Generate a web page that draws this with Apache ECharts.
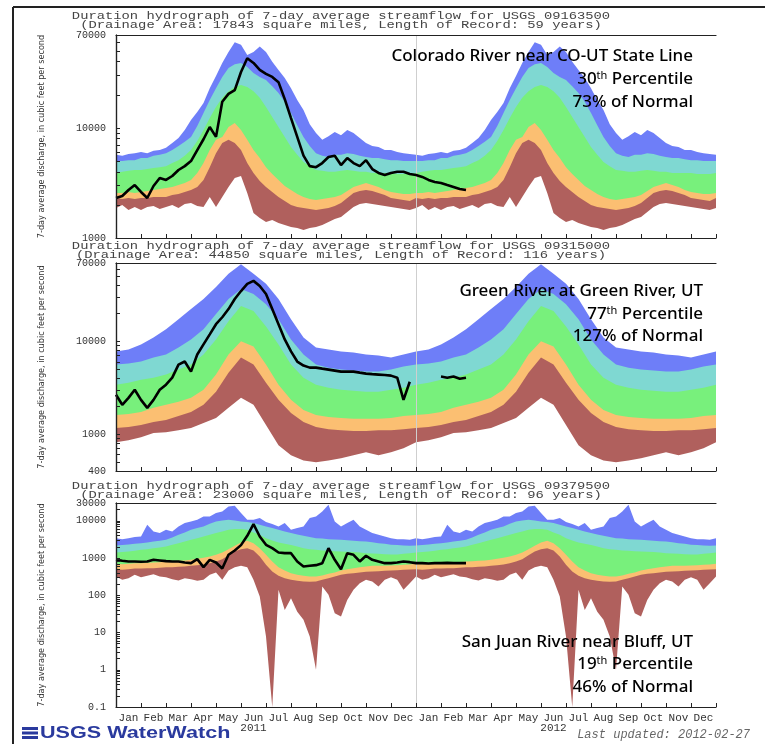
<!DOCTYPE html>
<html><head><meta charset="utf-8">
<script src="https://cdn.jsdelivr.net/npm/echarts@6.0.0/dist/echarts.min.js"></script>
<style>html,body{margin:0;padding:0;background:#fff}#c{width:765px;height:744px}</style>
</head><body><div id="c"></div>
<script>
// ---------- categories / ticks ----------
const monthNames = ['Jan','Feb','Mar','Apr','May','Jun','Jul','Aug','Sep','Oct','Nov','Dec',
                    'Jan','Feb','Mar','Apr','May','Jun','Jul','Aug','Sep','Oct','Nov','Dec'];
const yearLabels = ['2011','2012'];
const p1TickLabels = [1000, 10000, 70000];
const p2TickLabels = [400, 1000, 10000, 70000];
const p3TickLabels = [0.1, 1, 10, 100, 1000, 10000, 30000];
const p1Decades = [1000, 10000];
const p2Decades = [100, 1000, 10000];
const p3Decades = [0.1, 1, 10, 100, 1000, 10000];

// ---------- Panel 1: Colorado River near CO-UT State Line (quarter-month steps) ----------
const p1Max = [5700,5600,5800,5900,6050,5900,6200,6300,6600,7300,8100,9600,11800,14000,16900,23000,29700,39000,49000,60000,57000,46000,49000,55000,49000,40000,33700,28500,23000,18000,14600,10800,9000,7800,8400,9200,8600,9600,9000,8100,7300,6850,6700,6300,6300,6050,5900,5800];
const p1P90 = [5000,5000,5100,5100,5330,5330,5600,5700,5900,6300,6850,7500,8300,10400,13700,18000,23000,29100,35000,38000,39000,35900,31600,29100,27300,24000,20800,17300,13700,10600,8300,6850,5900,5600,5450,5700,5700,5900,5800,5600,5450,5330,5330,5200,5100,5100,5000,5000];
const p1P75 = [3900,4000,4080,4150,4150,4230,4320,4400,4500,4800,5100,5600,6300,7600,9600,12300,15500,18800,21600,23600,24600,23600,21600,18800,15500,12600,10200,8300,6700,5700,4900,4500,4150,4080,4000,4000,4080,4150,4080,4000,4000,3900,3900,3900,3900,3820,3820,3820];
const p1P25 = [2570,2570,2620,2570,2620,2680,2730,2790,2850,2910,3030,3160,3370,3900,4800,6300,7800,8300,10200,11100,9600,7800,6300,5330,4400,3820,3370,2970,2730,2510,2360,2260,2210,2260,2310,2360,2460,2680,2910,3030,3160,3030,2910,2730,2620,2570,2510,2510];
const p1P10 = [2310,2260,2310,2260,2310,2310,2360,2360,2360,2460,2510,2620,2730,2910,3370,4400,5900,7300,7800,7300,6300,4800,3900,3300,2910,2620,2360,2170,2000,1910,1870,1830,1800,1830,1870,1950,2080,2310,2570,2680,2730,2680,2570,2460,2310,2260,2210,2170];
const p1Min = [1870,2000,1800,1910,1800,1910,1950,1830,1910,2000,1870,2040,2080,1950,1910,2360,1910,2360,2910,3510,3660,2570,1690,1520,1400,1460,1370,1310,1260,1230,1180,1230,1260,1310,1400,1490,1550,1720,1910,2040,2080,2040,2000,1950,1910,1870,1830,1800];
const p1Obs = [2310,2410,2730,3030,2620,2310,2970,3510,3370,3660,4150,4500,5000,6300,7900,10200,8300,17300,20400,22100,32300,43000,39000,33700,31000,29100,26100,18300,12300,8300,5600,4500,4400,4800,5450,5600,4600,5330,4800,4500,5100,4230,3900,3740,3900,4000,4000,3820,3740,3590,3370,3230,3160,3030,2910,2790,2730];

// ---------- Panel 2: Green River at Green River, UT (half-month steps) ----------
const p2Max = [7790,8190,9270,11000,13500,17300,22300,28600,38600,53500,68000,53500,41700,28600,17300,11000,8610,8190,7790,7590,7220,7050,6700,7220];
const p2P90 = [5620,5770,6060,6700,7220,8610,10500,13500,19700,28600,36700,32400,25200,17300,10500,7220,5620,5210,4960,4840,4720,4720,4960,5350];
const p2P75 = [3410,3580,3860,4060,4380,4960,5620,7220,10500,16500,24000,21200,14500,9270,5620,4060,3410,3160,3010,2930,2860,2860,3010,3160];
const p2P25 = [1610,1650,1730,1920,2070,2230,2460,3010,4380,7220,10000,8830,5620,3410,2340,1820,1610,1530,1490,1460,1460,1460,1490,1570];
const p2P10 = [1160,1190,1250,1350,1420,1570,1730,2070,2860,4600,6700,5620,3580,2340,1690,1350,1190,1130,1100,1080,1080,1100,1100,1130];
const p2Min = [819,860,927,1030,1050,1100,1160,1320,1490,1920,2460,2070,1250,760,590,520,496,520,548,590,637,590,637,705];
const p2Obs = [2660,2070,2460,3010,2340,1920,2340,3010,3410,4060,5620,6060,4720,7220,9270,11900,15300,18200,22300,28600,34900,41700,44900,39600,32400,22300,15300,10500,7790,6060,5480,5210,5210,5080,4960,4840,4720,4720,4720,4600,4490,4430,4380,4330,4270,4060,2340,3670,null,null,null,null,4170,4060,4170,3960,4060];

// ---------- Panel 3: San Juan River near Bluff, UT (quarter-month steps) ----------
const p3Max = [3420,3210,3420,3640,3790,7800,5160,4660,5730,5160,7040,8650,9600,10600,13100,13100,16100,17800,24300,25300,16100,10600,10600,11800,9200,8130,7040,8650,5730,6350,7040,11800,13100,17800,26900,9600,7040,8650,10600,7040,5730,4660,4200,3790,3420,3210,3210,3080];
const p3P90 = [2170,2220,2310,2410,2510,2610,2780,2900,3080,3560,4200,4850,5730,6350,7040,8300,9600,10200,10600,10200,9600,9200,8650,7800,7040,6350,5730,5160,4660,4290,3950,3640,3420,3350,3210,3150,3080,3020,2900,2840,2780,2670,2510,2410,2260,2220,2170,2130];
const p3P75 = [1410,1440,1500,1560,1660,1730,1840,1920,2040,2260,2510,2780,3080,3420,3790,4200,4660,5160,5730,5970,5970,5730,4850,4200,3420,2960,2610,2410,2220,2040,1840,1730,1660,1590,1560,1530,1500,1470,1440,1410,1350,1320,1300,1270,1240,1240,1300,1350];
const p3P25 = [698,684,698,728,728,743,759,774,807,824,841,859,894,951,1010,1100,1220,1410,1730,2130,2610,2900,2510,1840,1220,807,568,462,392,353,332,319,319,339,376,408,462,502,534,568,592,617,617,617,629,643,656,670];
const p3P10 = [502,482,502,524,524,534,534,545,568,568,580,592,617,643,670,728,807,931,1190,1500,1730,1840,1590,1100,656,434,332,287,259,244,234,229,234,259,287,319,353,376,392,408,425,434,444,453,462,472,482,492];
const p3Min = [319,259,287,353,306,332,368,319,306,270,249,287,270,244,259,353,408,259,462,568,617,568,259,92,7.8,0.1,140,40,83,36,22,7.8,1.0,172,103,33,27,75,140,211,259,234,172,259,306,259,140,211];
const p3Obs = [894,841,807,807,791,807,894,859,824,807,807,759,728,931,568,894,759,524,1220,1590,2220,3950,8130,3790,2260,1840,1410,1350,1350,807,592,617,643,728,1840,894,502,1350,1220,807,1150,894,807,728,728,759,807,774,728,728,713,728,728,741,728,728,728];

// ---------- build ----------
const COLORS = {max:'#6e7ef8', p90:'#7fd8d2', p75:'#78f07c', p25:'#fbbf72', p10:'#b0605d', min:'#ffffff'};
function twoYears(arr){
  const step = 12 / arr.length, out = [];
  for (let y = 0; y < 2; y++) for (let i = 0; i < arr.length; i++) out.push([y*12 + i*step, arr[i]]);
  out.push([24, arr[0]]);
  return out;
}
function obsData(arr){ return arr.map((v,i)=>[i*0.25, v == null ? '-' : v]); }
function minorTicks(decades, lo, hi){
  const t = [];
  decades.forEach(d => { for (let k = 1; k <= 9; k++){ const v = +(k*d).toPrecision(3); if (v >= lo && v <= hi) t.push(v); } });
  return t;
}
const panels = [
  {top:35, height:203, min:1000, max:70000, labels:p1TickLabels, decades:p1Decades,
   bands:[p1Max,p1P90,p1P75,p1P25,p1P10,p1Min], obs:p1Obs},
  {top:263, height:208, min:400, max:70000, labels:p2TickLabels, decades:p2Decades,
   bands:[p2Max,p2P90,p2P75,p2P25,p2P10,p2Min], obs:p2Obs},
  {top:503, height:204, min:0.1, max:30000, labels:p3TickLabels, decades:p3Decades,
   bands:[p3Max,p3P90,p3P75,p3P25,p3P10,p3Min], obs:p3Obs}
];
const bandKeys = ['max','p90','p75','p25','p10','min'];
const grid = [], xAxis = [], yAxis = [], series = [];
const axisLineStyle = {color:'#222', width:1.2};
panels.forEach((p, g) => {
  grid.push({left:116, top:p.top, width:600, height:p.height});
  const xi = xAxis.length;
  xAxis.push({type:'value', gridIndex:g, min:0, max:24, interval:1, position:'bottom', z:10,
    axisLine:{show:true, lineStyle:axisLineStyle}, axisTick:{show:true, inside:true, length:4, lineStyle:{color:'#222'}},
    axisLabel:{show:false}, splitLine:{show:false}});
  xAxis.push({type:'value', gridIndex:g, min:0, max:24, interval:1, position:'top', z:10,
    axisLine:{show:true, lineStyle:axisLineStyle}, axisTick:{show:false}, axisLabel:{show:false}, splitLine:{show:false}});
  const yi = yAxis.length;
  yAxis.push({type:'log', logBase:10, gridIndex:g, min:p.min, max:p.max, position:'left', z:10,
    name:'7-day average discharge, in cubic feet per second', nameLocation:'middle', nameRotate:90, nameGap:70,
    nameTextStyle:{fontFamily:'"Liberation Sans Narrow","DejaVu Sans Condensed",sans-serif', fontSize:9, color:'#333'},
    axisLine:{show:true, lineStyle:axisLineStyle},
    axisTick:{show:true, inside:true, length:4, customValues:minorTicks(p.decades, p.min, p.max), lineStyle:{color:'#222'}},
    axisLabel:{show:true, customValues:p.labels, margin:10, fontFamily:'"Liberation Mono",monospace', fontSize:10, color:'#333',
      formatter:(v)=> String(+(+v).toPrecision(4))},
    splitLine:{show:false}});
  yAxis.push({type:'log', logBase:10, gridIndex:g, min:p.min, max:p.max, position:'right', z:10,
    axisLine:{show:true, lineStyle:axisLineStyle}, axisTick:{show:false}, axisLabel:{show:false}, splitLine:{show:false}});
  p.bands.forEach((arr, k) => {
    series.push({type:'line', xAxisIndex:xi, yAxisIndex:yi, data:twoYears(arr), symbol:'none', showSymbol:false,
      lineStyle:{width:0, opacity:0}, areaStyle:{color:COLORS[bandKeys[k]], opacity:1, origin:'start'},
      silent:true, animation:false, z:2+k*0.01});
  });
  series.push({type:'line', xAxisIndex:xi, yAxisIndex:yi, data:obsData(p.obs), symbol:'none', showSymbol:false,
    connectNulls:false, lineStyle:{color:'#000', width:2.6}, silent:true, animation:false, z:5,
    markLine:{silent:true, symbol:['none','none'], label:{show:false}, animation:false,
      lineStyle:{color:'#cfcfcf', width:1, type:'solid'}, data:[{xAxis:12}]}});
});
// month labels under the bottom panel
xAxis.push({type:'category', gridIndex:2, position:'bottom', data:monthNames, boundaryGap:true, offset:0,
  axisLine:{show:false}, axisTick:{show:false}, splitLine:{show:false},
  axisLabel:{interval:0, margin:6, fontFamily:'"Liberation Mono",monospace', fontSize:11, color:'#333', lineHeight:10,
    formatter:(v,i)=> i===5 ? v+'\n'+yearLabels[0] : (i===17 ? v+'\n'+yearLabels[1] : v)}});

// ---------- texts ----------
const titleFont = '10px "Liberation Mono", monospace';
const titles = [
  ['Duration hydrograph of 7-day average streamflow for USGS 09163500','(Drainage Area: 17843 square miles, Length of Record: 59 years)', 16],
  ['Duration hydrograph of 7-day average streamflow for USGS 09315000','(Drainage Area: 44850 square miles, Length of Record: 116 years)', 246],
  ['Duration hydrograph of 7-day average streamflow for USGS 09379500','(Drainage Area: 23000 square miles, Length of Record: 96 years)', 486]
];
const notes = [
  {x:693, y:[56,79,102], lines:['Colorado River near CO-UT State Line',['30','th',' Percentile'],'73% of Normal']},
  {x:703, y:[291,314,336], lines:['Green River at Green River, UT',['77','th',' Percentile'],'127% of Normal']},
  {x:693, y:[642,664,687], lines:['San Juan River near Bluff, UT',['19','th',' Percentile'],'46% of Normal']}
];
const graphic = [
  {type:'line', shape:{x1:13,y1:7,x2:765,y2:7}, style:{stroke:'#222', lineWidth:2}, z:100},
  {type:'line', shape:{x1:13,y1:7,x2:13,y2:744}, style:{stroke:'#222', lineWidth:2}, z:100}
];
titles.forEach(t => {
  graphic.push({type:'text', x:341, y:t[2], scaleX:1.38, z:100, style:{text:t[0], font:titleFont, fill:'#444', align:'center', verticalAlign:'middle'}});
  graphic.push({type:'text', x:341, y:t[2]+9.5, scaleX:1.38, z:100, style:{text:t[1], font:titleFont, fill:'#444', align:'center', verticalAlign:'middle'}});
});
const noteFamily = '"Noto Sans", "Open Sans", sans-serif';
notes.forEach(n => {
  n.lines.forEach((ln, k) => {
    const style = {fill:'#000', align:'right', verticalAlign:'middle', fontFamily:noteFamily, fontSize:17, fontWeight:500};
    if (Array.isArray(ln)) {
      style.text = '{n|'+ln[0]+'}{s|'+ln[1]+'}{n|'+ln[2]+'}';
      style.rich = {n:{fontFamily:noteFamily, fontSize:17, fontWeight:500, fill:'#000'}, s:{fontFamily:noteFamily, fontSize:11, fill:'#000', verticalAlign:'top'}};
    } else style.text = ln;
    graphic.push({type:'text', x:n.x, y:n.y[k], z:100, style});
  });
});
// USGS WaterWatch logo + update stamp
[727, 731.5, 736].forEach(yy => graphic.push({type:'rect', shape:{x:22, y:yy, width:16, height:3}, style:{fill:'#2a3a9e'}, z:100}));
graphic.push({type:'text', x:40, y:733, scaleX:1.27, z:100, style:{text:'USGS WaterWatch', font:'bold 17px "Liberation Sans", Arial, sans-serif', fill:'#2a3a9e', align:'left', verticalAlign:'middle'}});
graphic.push({type:'text', x:750, y:735, z:100, style:{text:'Last updated: 2012-02-27', font:'italic 12px "Liberation Mono", monospace', fill:'#666', align:'right', verticalAlign:'middle'}});

const chart = echarts.init(document.getElementById('c'), null, {renderer:'canvas'});
chart.setOption({animation:false, backgroundColor:'#fff', grid, xAxis, yAxis, series, graphic});
</script></body></html>
